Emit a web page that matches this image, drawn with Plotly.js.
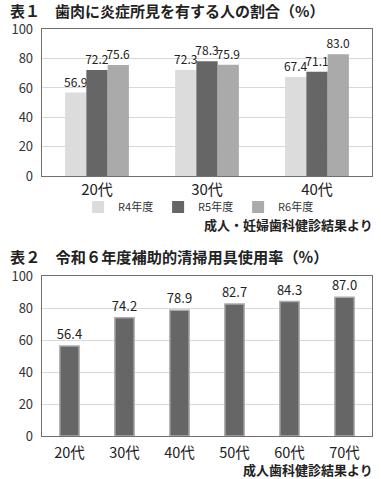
<!DOCTYPE html>
<html>
<head>
<meta charset="utf-8">
<script src="https://cdn.plot.ly/plotly-3.0.1.min.js"></script>
<style>html,body{margin:0;padding:0;background:#fff;}#chart{width:381px;height:479px;}</style>
</head>
<body>
<div id="chart"></div>
<script>
// Chart 1 data
var ages1 = ["20代", "30代", "40代"];
var seriesNames = ["R4年度", "R5年度", "R6年度"];
var r4 = [56.9, 72.3, 67.4];
var r5 = [72.2, 78.3, 71.1];
var r6 = [75.6, 75.9, 83.0];
// Chart 2 data
var ages2 = ["20代", "30代", "40代", "50代", "60代", "70代"];
var usage = [56.4, 74.2, 78.9, 82.7, 84.3, 87.0];
var yTicks = [0, 20, 40, 60, 80, 100];

var font = "Noto Sans CJK JP, Noto Sans, sans-serif";
var colors = ["#dcdcdc", "#666666", "#aaaaaa"];
var vals1 = [r4, r5, r6];

var traces = [];
for (var i = 0; i < 3; i++) {
  traces.push({
    type: "bar", x: ages1, y: vals1[i], name: seriesNames[i],
    xaxis: "x", yaxis: "y",
    marker: {color: colors[i]},
    text: vals1[i].map(function(v){return v.toFixed(1);}),
    textposition: "outside", cliponaxis: false, constraintext: "none",
    textfont: {family: font, size: 12, color: "#222"},
    hoverinfo: "skip"
  });
}
traces.push({
  type: "bar", x: ages2, y: usage, name: "使用率", showlegend: false,
  xaxis: "x2", yaxis: "y2", width: 0.35,
  marker: {color: "#666666", line: {color: "#aaaaaa", width: 1.5}},
  text: usage.map(function(v){return v.toFixed(1);}),
  textposition: "outside", cliponaxis: false, constraintext: "none",
  textfont: {family: font, size: 13, color: "#222"},
  hoverinfo: "skip"
});

function yax(domain) {
  return {
    domain: domain, range: [0, 100], tickvals: yTicks,
    showgrid: true, gridcolor: "#d8d8d8", gridwidth: 1,
    showline: true, linecolor: "#707070", linewidth: 1.3, mirror: true,
    zeroline: false, ticks: "", ticklabelstandoff: 5,
    tickfont: {family: font, size: 13, color: "#333"}, fixedrange: true
  };
}
function xax(anchor, standoff, size) {
  return {
    domain: [0.1102, 0.9764], anchor: anchor, type: "category",
    showline: true, linecolor: "#707070", linewidth: 1.3, mirror: true,
    ticks: "", ticklabelstandoff: standoff,
    tickfont: {family: font, size: size, color: "#222"}, fixedrange: true
  };
}

var layout = {
  width: 381, height: 479,
  margin: {l: 0, r: 0, t: 0, b: 0},
  paper_bgcolor: "#fff", plot_bgcolor: "#fff",
  barmode: "group", bargap: 0.42, bargroupgap: 0,
  font: {family: font},
  xaxis: xax("y", 0, 15),
  yaxis: yax([0.6326, 0.9388]),
  xaxis2: xax("y2", 3, 14.5),
  yaxis2: yax([0.0898, 0.4228]),
  showlegend: true,
  legend: {
    orientation: "h", x: 0.205, xanchor: "left", y: 0.568, yanchor: "middle",
    font: {family: font, size: 11, color: "#333"},
    entrywidth: 35, itemwidth: 30, tracegroupgap: 0, bgcolor: "rgba(0,0,0,0)"
  },
  annotations: [
    {text: "<b>表１　歯肉に炎症所見を有する人の割合（%）</b>", xref: "paper", yref: "paper",
     x: 0.022, y: 0.979, xanchor: "left", yanchor: "middle", showarrow: false,
     font: {family: font, size: 15, color: "#222"}},
    {text: "<b>成人・妊婦歯科健診結果より</b>", xref: "paper", yref: "paper",
     x: 0.985, y: 0.531, xanchor: "right", yanchor: "middle", showarrow: false,
     font: {family: font, size: 13, color: "#222"}},
    {text: "<b>表２　令和６年度補助的清掃用具使用率（%）</b>", xref: "paper", yref: "paper",
     x: 0.022, y: 0.465, xanchor: "left", yanchor: "middle", showarrow: false,
     font: {family: font, size: 15.2, color: "#222"}},
    {text: "<b>成人歯科健診結果より</b>", xref: "paper", yref: "paper",
     x: 0.985, y: 0.020, xanchor: "right", yanchor: "middle", showarrow: false,
     font: {family: font, size: 13, color: "#222"}}
  ]
};

Plotly.newPlot("chart", traces, layout, {displayModeBar: false, staticPlot: true});
</script>
</body>
</html>
